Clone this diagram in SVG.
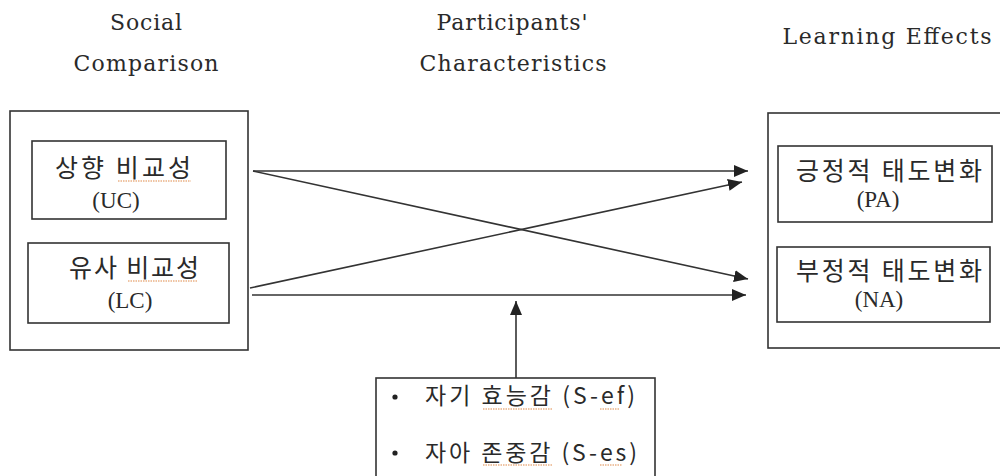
<svg xmlns="http://www.w3.org/2000/svg" width="1000" height="476" viewBox="0 0 1000 476">
  <style>
    .box { fill: none; stroke: #333; stroke-width: 1.6; }
    .hdr { font-family: "DejaVu Serif", "Liberation Serif", serif; font-size: 22px; fill: #2a2a2a; text-anchor: middle; }
    .ko { font-family: "Noto Sans CJK KR", "Noto Sans", sans-serif; font-size: 25px; fill: #2a2a2a; text-anchor: middle; }
    .ab { font-family: "Liberation Serif", "DejaVu Serif", serif; font-size: 23px; fill: #2a2a2a; text-anchor: middle; }
    .item { font-family: "Noto Sans CJK KR", "Noto Sans", sans-serif; font-size: 23px; fill: #2a2a2a; }
    .conn { stroke: #333; stroke-width: 1.6; fill: none; marker-end: url(#arrow); }
    .sq { stroke: #e08a4a; stroke-width: 1.2; stroke-dasharray: 1.5 1; fill: none; }
  </style>
  <defs>
    <marker id="arrow" markerUnits="userSpaceOnUse" markerWidth="14" markerHeight="12" viewBox="0 0 14 12" refX="14" refY="6" orient="auto">
      <path d="M0,0 L14,6 L0,12 Z" fill="#222"/>
    </marker>
  </defs>
  <rect width="1000" height="476" fill="#fff"/>

  <g id="headers">
    <text class="hdr" x="146" y="30" textLength="72" lengthAdjust="spacing">Social</text>
    <text class="hdr" x="146" y="71" textLength="145" lengthAdjust="spacing">Comparison</text>
    <text class="hdr" x="512" y="30" textLength="151" lengthAdjust="spacing">Participants'</text>
    <text class="hdr" x="513" y="71" textLength="187" lengthAdjust="spacing">Characteristics</text>
    <text class="hdr" x="887" y="44" textLength="209" lengthAdjust="spacing">Learning Effects</text>
  </g>

  <g id="social-comparison">
    <rect class="box" x="10" y="111" width="238" height="239"/>
  </g>
  <g id="uc">
    <rect class="box" x="32" y="141" width="194" height="78"/>
    <text class="ko" x="123" y="177" textLength="136" lengthAdjust="spacing">상향 비교성</text>
    <line class="sq" x1="118" y1="181" x2="191" y2="181"/>
    <text class="ab" x="116" y="208">(UC)</text>
  </g>
  <g id="lc">
    <rect class="box" x="28" y="243" width="201" height="80"/>
    <text class="ko" x="134" y="277" textLength="130" lengthAdjust="spacing">유사 비교성</text>
    <line class="sq" x1="128" y1="281" x2="198" y2="281"/>
    <text class="ab" x="130" y="308">(LC)</text>
  </g>

  <g id="learning-effects">
    <rect class="box" x="768" y="113" width="240" height="235"/>
  </g>
  <g id="pa">
    <rect class="box" x="778" y="146" width="214" height="76"/>
    <text class="ko" x="889" y="180" textLength="186" lengthAdjust="spacing">긍정적 태도변화</text>
    <text class="ab" x="878" y="207">(PA)</text>
  </g>
  <g id="na">
    <rect class="box" x="777" y="247" width="213" height="75"/>
    <text class="ko" x="889" y="280" textLength="186" lengthAdjust="spacing">부정적 태도변화</text>
    <text class="ab" x="879" y="307">(NA)</text>
  </g>

  <g id="participants">
    <rect class="box" x="376" y="378" width="279" height="120"/>
    <circle cx="395" cy="397" r="2.6" fill="#222"/>
    <text class="item" x="425" y="404" textLength="210" lengthAdjust="spacing">자기 효능감 (S-ef)</text>
    <line class="sq" x1="483" y1="409" x2="552" y2="409"/>
    <line class="sq" x1="600" y1="409" x2="620" y2="409"/>
    <circle cx="395" cy="453" r="2.6" fill="#222"/>
    <text class="item" x="425" y="461" textLength="212" lengthAdjust="spacing">자아 존중감 (S-es)</text>
    <line class="sq" x1="483" y1="465" x2="552" y2="465"/>
    <line class="sq" x1="600" y1="465" x2="622" y2="465"/>
  </g>

  <g id="connectors">
    <line class="conn" x1="253" y1="171" x2="748" y2="171"/>
    <line class="conn" x1="253" y1="171" x2="748" y2="279"/>
    <line class="conn" x1="250" y1="288" x2="742" y2="182"/>
    <line class="conn" x1="252" y1="295" x2="746" y2="295"/>
    <line class="conn" x1="516" y1="378" x2="516" y2="301"/>
  </g>
</svg>
